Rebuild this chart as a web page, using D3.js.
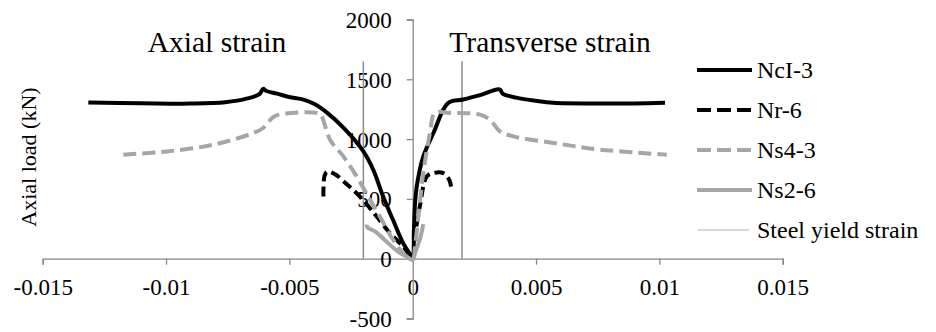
<!DOCTYPE html>
<html>
<head>
<meta charset="utf-8">
<script src="https://cdn.jsdelivr.net/npm/d3@7/dist/d3.min.js"></script>
<style>
  html, body { margin: 0; padding: 0; background: #fff; }
  svg { display: block; }
</style>
</head>
<body>
<svg id="chart" width="936" height="332" font-family="Liberation Serif"></svg>
<script>
// ---- data ----
const xTicks = [-0.015, -0.01, -0.005, 0, 0.005, 0.01, 0.015];
const xTickLabels = ["-0.015", "-0.01", "-0.005", "0", "0.005", "0.01", "0.015"];
const yTicks = [-500, 0, 500, 1000, 1500, 2000];
const yTickLabels = ["-500", "0", "500", "1000", "1500", "2000"];
const seriesNames = ["NcI-3", "Nr-6", "Ns4-3", "Ns2-6", "Steel yield strain"];
const steelYieldStrain = [-0.002, 0.002];
const steelYieldLoad = [0, 1650];

// strain, axial load (kN)
const ncI3 = [
  [-0.01315, 1305], [-0.0110, 1300], [-0.0090, 1297], [-0.0076, 1308], [-0.0067, 1340],
  [-0.0062, 1378], [-0.00607, 1420], [-0.00593, 1402], [-0.0055, 1380], [-0.0050, 1352],
  [-0.0045, 1334], [-0.0040, 1295], [-0.0035, 1225], [-0.0028, 1093], [-0.0020, 897],
  [-0.0016, 744], [-0.0012, 520], [-0.0008, 325], [-0.0004, 135], [-0.0001, 35], [0, 5],
  [0.00005, 250], [0.0001, 480], [0.0002, 650], [0.00043, 855], [0.00084, 1051],
  [0.00144, 1303], [0.00205, 1331], [0.0028, 1372], [0.00352, 1415], [0.00366, 1378],
  [0.0042, 1347], [0.0050, 1320], [0.0057, 1303], [0.0076, 1297], [0.0090, 1298], [0.01023, 1303]
];
const nr6 = [
  [-0.00362, 520], [-0.00358, 690], [-0.0035, 722], [-0.0034, 728], [-0.0031, 700],
  [-0.0028, 646], [-0.00214, 520], [-0.00146, 352], [-0.00092, 213], [-0.00038, 101], [0, 10],
  [0.0001, 200], [0.0003, 450], [0.00057, 688], [0.00084, 716], [0.00124, 716],
  [0.00148, 660], [0.00158, 570]
];
const ns43 = [
  [-0.01173, 870], [-0.00997, 897], [-0.00808, 953], [-0.00646, 1051], [-0.00606, 1093],
  [-0.00565, 1185], [-0.00525, 1211], [-0.00389, 1219], [-0.00372, 1200], [-0.00335, 995],
  [-0.00281, 855], [-0.00227, 688], [-0.00173, 492], [-0.00133, 352], [-0.00079, 157],
  [-0.00024, 17], [0, 0],
  [0.0001, 120], [0.00023, 352], [0.00043, 716], [0.0007, 1051], [0.0009, 1219],
  [0.00151, 1219], [0.00273, 1205], [0.00313, 1163], [0.00354, 1065], [0.00408, 1023],
  [0.0057, 968], [0.0076, 912], [0.0103, 870]
];
const ns26 = [
  [-0.00186, 285], [-0.00184, 262], [-0.0015, 225], [-0.0011, 150], [-0.0006, 60],
  [-0.0002, 12], [0, -10], [0.0001, 50], [0.0003, 170], [0.00043, 290]
];

// ---- chart ----
const FONT = "Liberation Serif";
const svg = d3.select("#chart");
const x = d3.scaleLinear().domain([-0.015, 0.015]).range([42.7, 782.7]);
const y = d3.scaleLinear().domain([-500, 2000]).range([318.5, 19.5]);
const axisColor = "#868686";

const xAxis = d3.axisBottom(x).tickValues(xTicks).tickSize(6)
  .tickFormat((d, i) => xTickLabels[i]);
const gx = svg.append("g").attr("transform", `translate(0,${y(0)})`).call(xAxis)
  .attr("font-family", FONT);
gx.select(".domain").attr("stroke", axisColor).attr("stroke-width", 1.3);
gx.selectAll(".tick line").attr("stroke", axisColor).attr("stroke-width", 1.3);
gx.selectAll(".tick text").attr("font-size", 23).attr("fill", "#000")
  .attr("font-family", FONT).attr("dy", "0").attr("y", 36);
gx.selectAll(".tick").filter(d => d === 0).select("line").remove();

const yAxis = d3.axisLeft(y).tickValues(yTicks).tickSize(6)
  .tickFormat((d, i) => yTickLabels[i]);
const gy = svg.append("g").attr("transform", `translate(${x(0)},0)`).call(yAxis)
  .attr("font-family", FONT);
gy.select(".domain").attr("stroke", axisColor).attr("stroke-width", 1.3);
gy.selectAll(".tick line").attr("stroke", axisColor).attr("stroke-width", 1.3);
gy.selectAll(".tick text").attr("font-size", 23).attr("fill", "#000")
  .attr("font-family", FONT).attr("x", -21).attr("dy", "0.35em");

// steel yield lines
steelYieldStrain.forEach(s => {
  svg.append("line")
    .attr("x1", x(s)).attr("x2", x(s))
    .attr("y1", y(steelYieldLoad[0])).attr("y2", y(steelYieldLoad[1]))
    .attr("stroke", "#8c8c8c").attr("stroke-width", 1.5);
});

// titles
svg.append("text").attr("x", 217).attr("y", 52).attr("text-anchor", "middle")
  .attr("font-family", FONT).attr("font-size", 29.5).text("Axial strain");
svg.append("text").attr("x", 550).attr("y", 52).attr("text-anchor", "middle")
  .attr("font-family", FONT).attr("font-size", 29.5).text("Transverse strain");
svg.append("text").attr("transform", "translate(36,157) rotate(-90)")
  .attr("font-family", FONT).attr("text-anchor", "middle").attr("font-size", 22)
  .text("Axial load (kN)");

const line = d3.line().x(d => x(d[0])).y(d => y(d[1])).curve(d3.curveCatmullRom.alpha(0.5));

const styles = [
  { data: ncI3, color: "#000", dash: null },
  { data: nr6, color: "#000", dash: "10,5" },
  { data: ns43, color: "#a6a6a6", dash: "13,6" },
  { data: ns26, color: "#a6a6a6", dash: null }
];
styles.forEach(s => {
  svg.append("path").datum(s.data).attr("d", line)
    .attr("fill", "none").attr("stroke", s.color).attr("stroke-width", 4)
    .attr("stroke-linejoin", "round")
    .attr("stroke-dasharray", s.dash);
});

// legend
const lg = svg.append("g").attr("font-family", FONT);
seriesNames.forEach((name, i) => {
  const yy = 70 + i * 40;
  const st = styles[i];
  if (st) {
    lg.append("line").attr("x1", 697).attr("x2", 752).attr("y1", yy).attr("y2", yy)
      .attr("stroke", st.color).attr("stroke-width", 4)
      .attr("stroke-dasharray", st.dash ? "14,6" : null);
  } else {
    lg.append("line").attr("x1", 698).attr("x2", 749).attr("y1", yy).attr("y2", yy)
      .attr("stroke", "#b0b0b0").attr("stroke-width", 1);
  }
  lg.append("text").attr("x", 757).attr("y", yy).attr("dy", "0.35em")
    .attr("font-family", FONT).attr("font-size", 24).text(name);
});
</script>
</body>
</html>
